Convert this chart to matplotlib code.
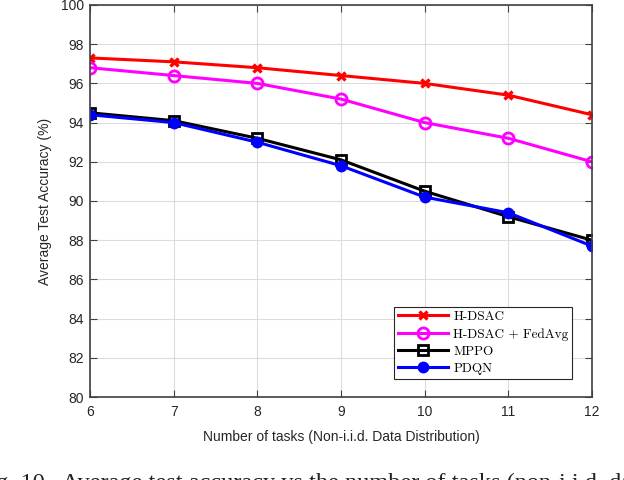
import matplotlib
matplotlib.use("Agg")
import matplotlib.pyplot as plt

# data
tasks = [6, 7, 8, 9, 10, 11, 12]
hdsac = [97.3, 97.1, 96.8, 96.4, 96.0, 95.4, 94.4]
hdsac_fedavg = [96.8, 96.4, 96.0, 95.2, 94.0, 93.2, 92.0]
mppo = [94.5, 94.1, 93.2, 92.1, 90.5, 89.2, 88.0]
pdqn = [94.4, 94.0, 93.0, 91.8, 90.2, 89.4, 87.7]
yticks = [80, 82, 84, 86, 88, 90, 92, 94, 96, 98, 100]

plt.rcParams["font.family"] = "Liberation Sans"

fig = plt.figure(figsize=(6.24, 4.8), dpi=100)
ax = fig.add_axes([0.1442, 0.1729, 0.8045, 0.8167])

ax.plot(tasks, hdsac, color="red", lw=2.2, marker="x", ms=6, mew=2.4, label="H-DSAC")
ax.plot(tasks, hdsac_fedavg, color="magenta", lw=2.2, marker="o", ms=8, mew=2,
        mfc="none", label="H-DSAC + FedAvg")
ax.plot(tasks, mppo, color="black", lw=2.2, marker="s", ms=7.5, mew=2,
        mfc="none", label="MPPO")
ax.plot(tasks, pdqn, color="blue", lw=2.2, marker="o", ms=7, mew=1.5,
        label="PDQN")

ax.set_xlim(6, 12)
ax.set_ylim(80, 100)
ax.set_xticks(tasks)
ax.set_yticks(yticks)
ax.grid(True, color="#dcdcdc", lw=0.8)
ax.set_axisbelow(True)
ax.tick_params(direction="in", top=True, right=True, length=5, width=0.8,
               colors="#404040", labelsize=10, labelcolor="#262626")
ax.tick_params(axis="x", pad=6)
ax.tick_params(axis="y", pad=4.5)
for s in ax.spines.values():
    s.set_color("#404040")
    s.set_linewidth(1.2)

ax.set_xlabel("Number of tasks (Non-i.i.d. Data Distribution)", fontsize=10,
              color="#262626", labelpad=8)
ax.set_ylabel("Average Test Accuracy (%)", fontsize=10, color="#262626", labelpad=6)

leg = ax.legend(loc="lower right", bbox_to_anchor=(0.961, 0.046),
                prop={"family": "cmr10", "size": 9.5},
                fancybox=False, framealpha=1, edgecolor="#262626",
                handlelength=3.8, handletextpad=0.4, borderpad=0.3,
                labelspacing=0.38, borderaxespad=0)
leg.get_frame().set_linewidth(0.8)

fig.text(-0.038, -0.018, "Fig. 10.  Average test accuracy vs the number of tasks (non-i.i.d. data distribution).",
         family="Liberation Serif", fontsize=17.5, color="#222222", va="baseline")

fig.savefig("out.png", dpi=100)
